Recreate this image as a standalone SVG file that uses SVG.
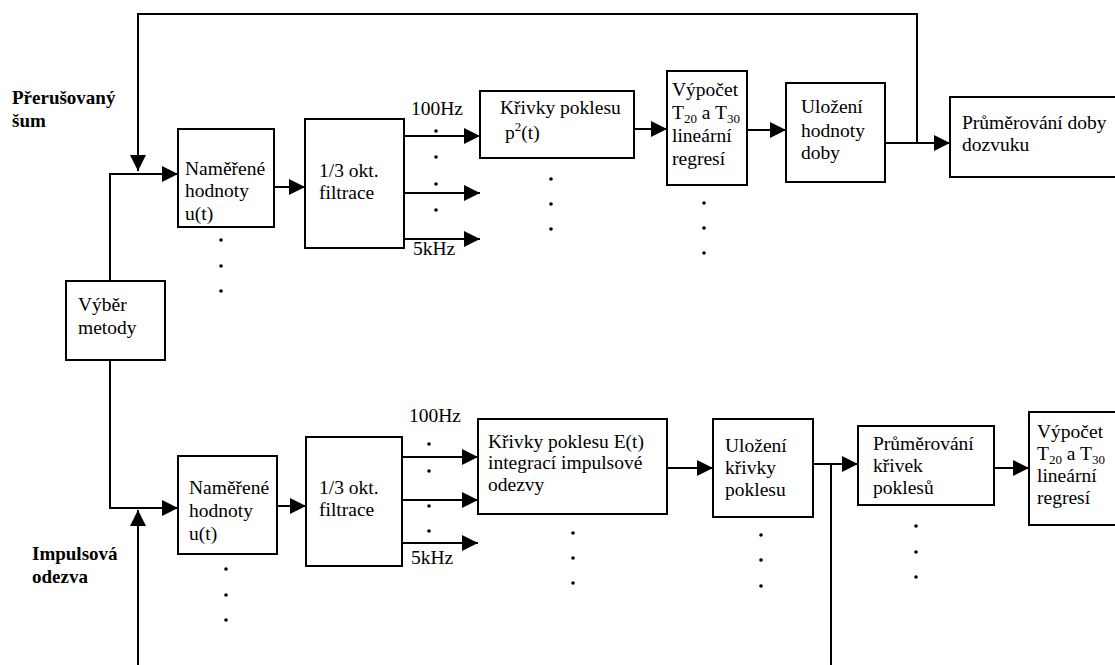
<svg xmlns="http://www.w3.org/2000/svg" width="1115" height="665" viewBox="0 0 1115 665">
<style>
.box{fill:#fff;stroke:#000;stroke-width:2}
.t{font-family:"Liberation Serif","Times New Roman",serif;font-size:19.5px;fill:#000}
.b{font-family:"Liberation Serif","Times New Roman",serif;font-size:19px;font-weight:bold;fill:#000}
.sub{font-size:13px}
.ln{fill:none;stroke:#000;stroke-width:2}
.dot{fill:#000}
</style>
<defs>
<marker id="ah" viewBox="0 0 16 16" refX="16" refY="8" markerWidth="16" markerHeight="16" markerUnits="userSpaceOnUse" orient="auto">
<path d="M0,0 L16,8 L0,16 Z" fill="#000"/>
</marker>
</defs>
<rect width="1115" height="665" fill="#fff"/>

<g id="labels">
<text class="b" x="12" y="104">Přerušovaný</text>
<text class="b" x="12" y="127">šum</text>
<text class="b" x="32" y="560">Impulsová</text>
<text class="b" x="32" y="583">odezva</text>
<text class="t" x="411" y="115">100Hz</text>
<text class="t" x="413" y="255">5kHz</text>
<text class="t" x="409" y="422">100Hz</text>
<text class="t" x="411" y="564">5kHz</text>
</g>

<g id="connectors">
<path class="ln" d="M917,143 V14 H138 V171" marker-end="url(#ah)"/>
<path class="ln" d="M110,281 V174 H178" marker-end="url(#ah)"/>
<path class="ln" d="M274,187 H305" marker-end="url(#ah)"/>
<path class="ln" d="M404,136 H480" marker-end="url(#ah)"/>
<path class="ln" d="M404,193 H480" marker-end="url(#ah)"/>
<path class="ln" d="M404,239 H480" marker-end="url(#ah)"/>
<path class="ln" d="M634,129 H667" marker-end="url(#ah)"/>
<path class="ln" d="M747,130 H786" marker-end="url(#ah)"/>
<path class="ln" d="M885,143 H950" marker-end="url(#ah)"/>
<path class="ln" d="M110,360 V508 H178" marker-end="url(#ah)"/>
<path class="ln" d="M138,665 V510" marker-end="url(#ah)"/>
<path class="ln" d="M277,506 H306" marker-end="url(#ah)"/>
<path class="ln" d="M402,457 H478" marker-end="url(#ah)"/>
<path class="ln" d="M402,500 H478" marker-end="url(#ah)"/>
<path class="ln" d="M402,543 H478" marker-end="url(#ah)"/>
<path class="ln" d="M667,468 H713" marker-end="url(#ah)"/>
<path class="ln" d="M813,464 H858" marker-end="url(#ah)"/>
<path class="ln" d="M831,464 V665"/>
<path class="ln" d="M994,468 H1029" marker-end="url(#ah)"/>
</g>

<g id="dots">
<circle class="dot" cx="436" cy="131" r="1.8"/><circle class="dot" cx="436" cy="157" r="1.8"/><circle class="dot" cx="436" cy="184" r="1.8"/><circle class="dot" cx="436" cy="210" r="1.8"/>
<circle class="dot" cx="221" cy="240" r="1.8"/><circle class="dot" cx="221" cy="266" r="1.8"/><circle class="dot" cx="221" cy="291" r="1.8"/>
<circle class="dot" cx="551" cy="179" r="1.8"/><circle class="dot" cx="551" cy="204" r="1.8"/><circle class="dot" cx="551" cy="229" r="1.8"/>
<circle class="dot" cx="704" cy="203" r="1.8"/><circle class="dot" cx="704" cy="228" r="1.8"/><circle class="dot" cx="704" cy="253" r="1.8"/>
<circle class="dot" cx="429" cy="444" r="1.8"/><circle class="dot" cx="429" cy="471" r="1.8"/><circle class="dot" cx="429" cy="506" r="1.8"/><circle class="dot" cx="429" cy="531" r="1.8"/>
<circle class="dot" cx="226" cy="569" r="1.8"/><circle class="dot" cx="226" cy="595" r="1.8"/><circle class="dot" cx="226" cy="620" r="1.8"/>
<circle class="dot" cx="573" cy="533" r="1.8"/><circle class="dot" cx="573" cy="558" r="1.8"/><circle class="dot" cx="573" cy="583" r="1.8"/>
<circle class="dot" cx="761" cy="535" r="1.8"/><circle class="dot" cx="761" cy="560" r="1.8"/><circle class="dot" cx="761" cy="586" r="1.8"/>
<circle class="dot" cx="916" cy="526" r="1.8"/><circle class="dot" cx="916" cy="552" r="1.8"/><circle class="dot" cx="916" cy="577" r="1.8"/>
</g>

<g id="vyber">
<rect class="box" x="66" y="281" width="99" height="79"/>
<text class="t" x="78" y="311">Výběr</text>
<text class="t" x="78" y="334">metody</text>
</g>

<g id="nam1">
<rect class="box" x="178" y="129" width="96" height="98"/>
<text class="t" x="185" y="175">Naměřené</text>
<text class="t" x="185" y="197">hodnoty</text>
<text class="t" x="185" y="220">u(t)</text>
</g>

<g id="filt1">
<rect class="box" x="305" y="119" width="99" height="129"/>
<text class="t" x="319" y="177">1/3 okt.</text>
<text class="t" x="319" y="199">filtrace</text>
</g>

<g id="kriv1">
<rect class="box" x="480" y="91" width="154" height="67"/>
<text class="t" x="500" y="114">Křivky poklesu</text>
<text class="t" x="505" y="139">p<tspan class="sub" dy="-8">2</tspan><tspan dy="8">(t)</tspan></text>
</g>

<g id="vyp1">
<rect class="box" x="667" y="71" width="80" height="114"/>
<text class="t" x="672" y="96">Výpočet</text>
<text class="t" x="672" y="119">T<tspan class="sub" dy="4">20</tspan><tspan dy="-4"> a T</tspan><tspan class="sub" dy="4">30</tspan></text>
<text class="t" x="672" y="142">lineární</text>
<text class="t" x="672" y="165">regresí</text>
</g>

<g id="ulo1">
<rect class="box" x="786" y="83" width="99" height="99"/>
<text class="t" x="801" y="113">Uložení</text>
<text class="t" x="801" y="137">hodnoty</text>
<text class="t" x="801" y="159">doby</text>
</g>

<g id="prum1">
<rect class="box" x="950" y="97" width="180" height="80"/>
<text class="t" x="962" y="129">Průměrování doby</text>
<text class="t" x="962" y="151">dozvuku</text>
</g>

<g id="nam2">
<rect class="box" x="178" y="456" width="99" height="98"/>
<text class="t" x="189" y="494">Naměřené</text>
<text class="t" x="189" y="517">hodnoty</text>
<text class="t" x="189" y="540">u(t)</text>
</g>

<g id="filt2">
<rect class="box" x="306" y="437" width="96" height="129"/>
<text class="t" x="319" y="494">1/3 okt.</text>
<text class="t" x="319" y="516">filtrace</text>
</g>

<g id="kriv2">
<rect class="box" x="478" y="419" width="189" height="95"/>
<text class="t" x="488" y="448">Křivky poklesu E(t)</text>
<text class="t" x="488" y="469">integrací impulsové</text>
<text class="t" x="488" y="491">odezvy</text>
</g>

<g id="ulo2">
<rect class="box" x="713" y="419" width="100" height="98"/>
<text class="t" x="725" y="452">Uložení</text>
<text class="t" x="725" y="474">křivky</text>
<text class="t" x="725" y="496">poklesu</text>
</g>

<g id="prum2">
<rect class="box" x="858" y="426" width="136" height="79"/>
<text class="t" x="873" y="450">Průměrování</text>
<text class="t" x="873" y="472">křivek</text>
<text class="t" x="873" y="494">poklesů</text>
</g>

<g id="vyp2">
<rect class="box" x="1029" y="412" width="100" height="113"/>
<text class="t" x="1037" y="438">Výpočet</text>
<text class="t" x="1037" y="460">T<tspan class="sub" dy="4">20</tspan><tspan dy="-4"> a T</tspan><tspan class="sub" dy="4">30</tspan></text>
<text class="t" x="1037" y="482">lineární</text>
<text class="t" x="1037" y="504">regresí</text>
</g>
</svg>
